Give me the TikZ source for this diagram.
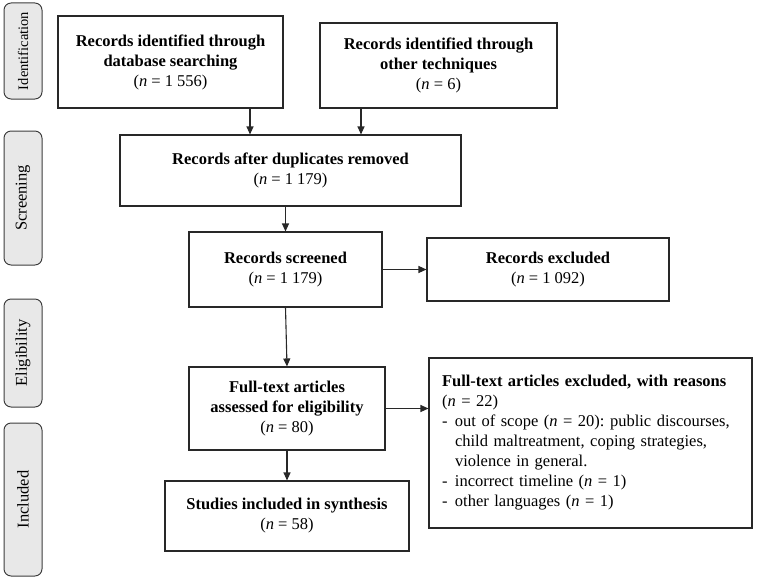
\documentclass[tikz,border=0pt]{standalone}
\usepackage{fontspec}
\setmainfont{Liberation Serif}
\usepackage{xcolor}
\usepackage{tikz}
\usetikzlibrary{arrows.meta,positioning,calc}
\frenchspacing
\definecolor{boxline}{RGB}{40,40,40}
\definecolor{phasefill}{RGB}{232,232,232}
\definecolor{phaseline}{RGB}{60,60,60}
\tikzset{
  flowbox/.style={rectangle, draw=boxline, line width=1.1pt, fill=white,
                  align=center, inner sep=2pt,
                  font=\fontsize{16.5}{20}\selectfont},
  notebox/.style={flowbox, align=left, inner xsep=13pt,
                  text width=297pt},
  phasebox/.style={rectangle, rounded corners=2.5mm, draw=phaseline,
                   line width=1pt, fill=phasefill, rotate=90,
                   minimum height=38pt, inner sep=0pt,
                   font=\fontsize{16.5}{18}\selectfont},
  arr/.style={-{Triangle[length=8pt,width=7pt]}, line width=1.1pt, color=boxline},
}
\newcommand{\nn}{\textit{n}}
\newcommand{\dashitem}{\makebox[13pt][l]{-}}

\begin{document}
\begin{tikzpicture}[x=1pt,y=-1pt]
  \useasboundingbox (0,0) rectangle (757,578);
  % phases
  \node[phasebox, minimum width=96pt, font=\fontsize{14.5}{18}\selectfont] (ident) at (23,51) {Identification};
  \node[phasebox, minimum width=134pt] (screen) at (23,198) {Screening};
  \node[phasebox, minimum width=108pt] (elig) at (23,353) {Eligibility};
  \node[phasebox, minimum width=153pt] (incl) at (23,499.5) {Included};
  % boxes
  \node[flowbox, minimum width=225pt, minimum height=92pt] (dbrec) at (170.5,62)
    {\textbf{Records identified through}\\\textbf{database searching}\\(\nn{} = 1 556)};
  \node[flowbox, minimum width=237pt, minimum height=85pt] (otherrec) at (438.5,65.5)
    {\textbf{Records identified through}\\\textbf{other techniques}\\(\nn{} = 6)};
  \node[flowbox, minimum width=341pt, minimum height=71pt] (dedup) at (290.5,170.5)
    {\textbf{Records after duplicates removed}\\(\nn{} = 1 179)};
  \node[flowbox, minimum width=193pt, minimum height=75pt] (screened) at (285.5,269.5)
    {\textbf{Records screened}\\(\nn{} = 1 179)};
  \node[flowbox, minimum width=242pt, minimum height=63pt] (excl1) at (548,269.5)
    {\textbf{Records excluded}\\(\nn{} = 1 092)};
  \node[flowbox, minimum width=196pt, minimum height=83pt] (fulltext) at (287,408.5)
    {\textbf{Full-text articles}\\\textbf{assessed for eligibility}\\(\nn{} = 80)};
  \node[notebox, minimum height=170pt] (excl2) at (590.5,443)
    {\textbf{Full-text articles excluded, with reasons}\\
     (\nn{} = 22)\\
     \dashitem out of scope (\nn{} = 20): public discourses,\\
     \hspace*{13pt}child maltreatment, coping strategies,\\
     \hspace*{13pt}violence in general.\\
     \dashitem incorrect timeline (\nn{} = 1)\\
     \dashitem other languages (\nn{} = 1)};
  \node[flowbox, minimum width=244pt, minimum height=70pt] (included) at (287,516)
    {\textbf{Studies included in synthesis}\\(\nn{} = 58)};
  % arrows
  \draw[arr] ([xshift=79.5pt]dbrec.south) -- ([xshift=79.5pt]dbrec.south |- dedup.north);
  \draw[arr] ([xshift=-77.5pt]otherrec.south) -- ([xshift=-77.5pt]otherrec.south |- dedup.north);
  \draw[arr] (screened.north |- dedup.south) -- (screened.north);
  \draw[arr] (screened.east) -- (excl1.west);
  \draw[arr] (screened.south) -- (fulltext.north);
  \draw[arr] (fulltext.east) -- (fulltext.east -| excl2.west);
  \draw[arr] (fulltext.south) -- (included.north);
\end{tikzpicture}
\end{document}
